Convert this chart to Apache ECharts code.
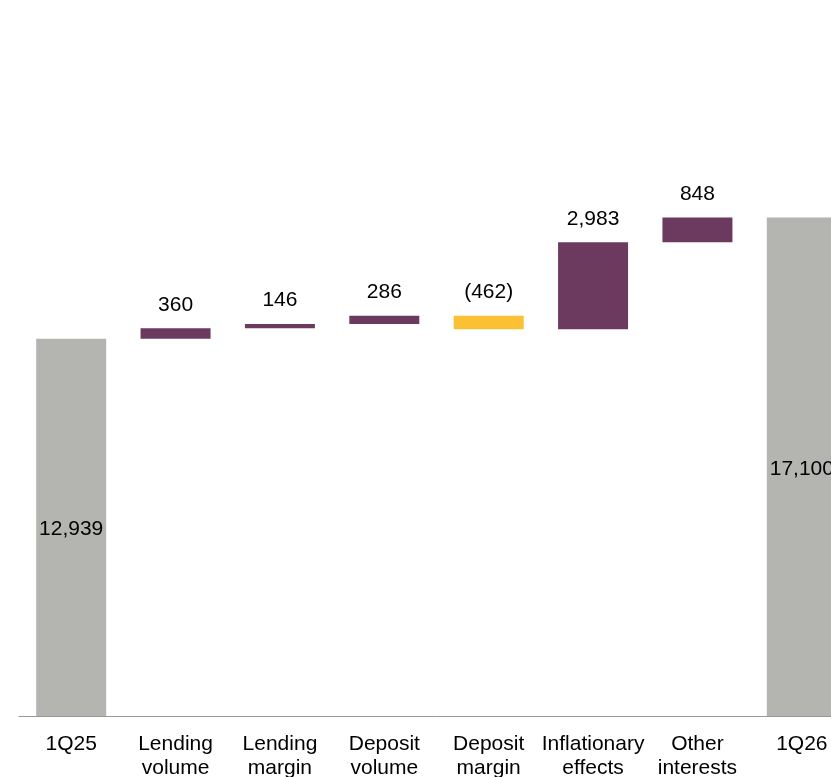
<!DOCTYPE html>
<html>
<head>
<meta charset="utf-8">
<script src="https://cdn.jsdelivr.net/npm/echarts@6/dist/echarts.min.js"></script>
<style>html,body{margin:0;padding:0;background:#fff;overflow:hidden;width:831px;height:777px;}#c{width:854px;height:777px;}</style>
</head>
<body>
<div id="c"></div>
<script>
const categories = ['1Q25', 'Lending\nvolume', 'Lending\nmargin', 'Deposit\nvolume', 'Deposit\nmargin', 'Inflationary\neffects', 'Other\ninterests', '1Q26'];
const values = [12939, 360, 146, 286, -462, 2983, 848, 17100];
const kinds = ['total', 'delta', 'delta', 'delta', 'delta', 'delta', 'delta', 'total'];

const GRAY = '#B4B5B1', PURPLE = '#6B3A5E', YELLOW = '#FBC033';
const FONT = 'Liberation Sans, Arial, sans-serif';
const fmt = v => Math.abs(v).toLocaleString('en-US');

let running = 0;
const baseData = [], barData = [];
values.forEach((v, i) => {
  if (kinds[i] === 'total') {
    running = v;
    baseData.push(0);
    barData.push({ value: v, itemStyle: { color: GRAY },
      label: { show: true, position: 'inside', offset: [0, 2], formatter: fmt(v) } });
  } else {
    const start = running, end = running + v;
    running = end;
    baseData.push(Math.min(start, end));
    barData.push({ value: Math.abs(v), itemStyle: { color: v < 0 ? YELLOW : PURPLE },
      label: { show: true, position: 'top', distance: 13,
        formatter: v < 0 ? '(' + fmt(v) + ')' : fmt(v) } });
  }
});

const chart = echarts.init(document.getElementById('c'), null, { renderer: 'canvas' });
chart.setOption({
  animation: false,
  backgroundColor: '#fff',
  grid: { left: 19, right: 0, top: 133, bottom: 61, containLabel: false, outerBoundsMode: 'none' },
  xAxis: {
    type: 'category', data: categories,
    axisLine: { lineStyle: { color: '#999', width: 1 } },
    axisTick: { show: false },
    axisLabel: { interval: 0, margin: 16, color: '#000', fontSize: 21, lineHeight: 24, fontFamily: FONT }
  },
  yAxis: { type: 'value', min: 0, max: 20000, show: false, splitLine: { show: false } },
  series: [
    { type: 'bar', stack: 'w', data: baseData, barWidth: 70,
      itemStyle: { color: 'transparent' }, silent: true },
    { type: 'bar', stack: 'w', data: barData, barWidth: 70,
      label: { color: '#000', fontSize: 21, fontFamily: FONT } }
  ]
});
</script>
</body>
</html>
